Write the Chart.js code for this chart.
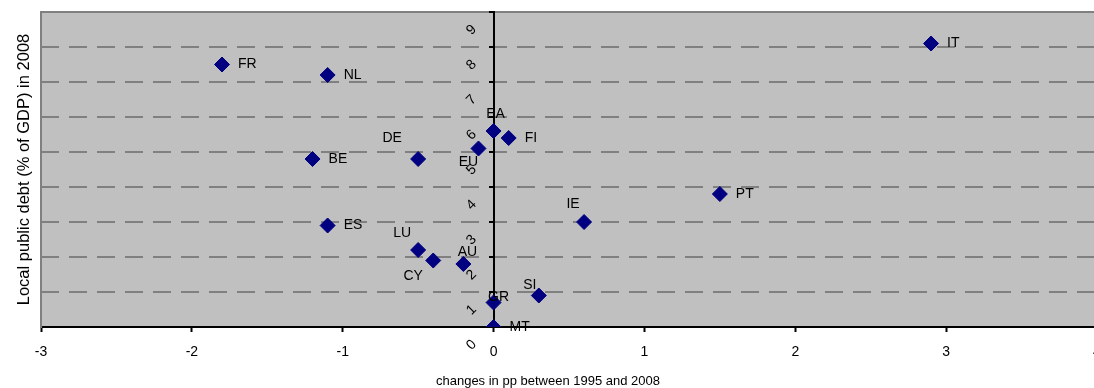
<!DOCTYPE html>
<html>
<head>
<meta charset="utf-8">
<title>Local public debt vs change 1995-2008</title>
<script src="https://cdn.jsdelivr.net/npm/chart.js@4.4.1/dist/chart.umd.min.js"></script>
<style>
  html, body { margin: 0; padding: 0; background: #fff; overflow: hidden; }
  #wrap { width: 1094px; height: 388px; overflow: hidden; }
  canvas { display: block; }
</style>
</head>
<body>
<div id="wrap"><canvas id="debtChart" width="1120" height="388"></canvas></div>
<script>
/* Local public debt 2008 against change since 1995: scatter with country tags. */
var countries = ['FR', 'NL', 'BE', 'DE', 'EU', 'EA', 'FI', 'IT', 'PT', 'IE', 'ES', 'LU', 'CY', 'AU', 'SI', 'GR', 'MT'];
var changePP  = [-1.8, -1.1, -1.2, -0.5, -0.1, 0, 0.1, 2.9, 1.5, 0.6, -1.1, -0.5, -0.4, -0.2, 0.3, 0, 0];
var debt2008  = [7.5, 7.2, 4.8, 4.8, 5.1, 5.6, 5.4, 8.1, 3.8, 3.0, 2.9, 2.2, 1.9, 1.8, 0.9, 0.7, 0];
var xTicks = [-3, -2, -1, 0, 1, 2, 3, 4];
var yTicks = [0, 1, 2, 3, 4, 5, 6, 7, 8, 9];
var xTitle = 'changes in pp between 1995 and 2008';
var yTitle = 'Local public debt (% of GDP) in 2008';

// where each tag sits relative to its marker: [dx, dy, align]
var tagPlace = {
    DE: [-26, -21, 'center'], EU: [-10, 14, 'center'], EA: [2, -17, 'center'],
    IE: [-11, -18, 'center'], LU: [-16, -17, 'center'], CY: [-20, 16, 'center'],
    AU: [4, -12, 'center'], SI: [-9, -10, 'center'], GR: [5, -5, 'center']
};
var defaultPlace = [16, 0, 'left'];

(function () {
    'use strict';

    var fam = "'Liberation Sans', Arial, sans-serif";

    function fixedTicks(list) {
        return function (scale) { scale.ticks = list.map(function (v) { return { value: v }; }); };
    }

    var plotBg = {
        id: 'plotBg',
        beforeDraw: function (chart) {
            var a = chart.chartArea, ctx = chart.ctx;
            ctx.save();
            ctx.fillStyle = '#c0c0c0';
            ctx.fillRect(a.left, a.top, a.right - a.left, a.bottom - a.top);
            ctx.strokeStyle = '#808080';
            ctx.lineWidth = 2;
            ctx.beginPath();
            ctx.moveTo(a.left, a.top);
            ctx.lineTo(a.right + 5, a.top);
            ctx.stroke();
            ctx.restore();
        },
        afterDraw: function (chart) {
            // x title sits a little left of the plot centre in the original
            var ctx = chart.ctx;
            ctx.save();
            ctx.font = '13px ' + fam;
            ctx.fillStyle = '#000';
            ctx.textAlign = 'center';
            ctx.textBaseline = 'middle';
            ctx.fillText(xTitle, 548, 381);
            ctx.restore();
        }
    };

    // slanted y tick labels, hung just below each tick and left of the axis at x = 0
    var yTickText = {
        id: 'yTickText',
        afterDatasetsDraw: function (chart) {
            var ctx = chart.ctx, ys = chart.scales.y, x0 = chart.scales.x.getPixelForValue(0);
            ctx.save();
            ctx.font = '14px ' + fam;
            ctx.fillStyle = '#000';
            ctx.textAlign = 'center';
            ctx.textBaseline = 'middle';
            yTicks.forEach(function (v) {
                ctx.save();
                ctx.translate(x0 - 22, ys.getPixelForValue(v) + 18);
                ctx.rotate(-Math.PI / 4);
                ctx.fillText(String(v), 0, 0);
                ctx.restore();
            });
            ctx.restore();
        }
    };

    var pointTags = {
        id: 'pointTags',
        afterDatasetsDraw: function (chart) {
            var ctx = chart.ctx;
            var meta = chart.getDatasetMeta(0);
            ctx.save();
            ctx.font = '14px ' + fam;
            ctx.fillStyle = '#000';
            ctx.textBaseline = 'middle';
            meta.data.forEach(function (pt, i) {
                var p = tagPlace[countries[i]] || defaultPlace;
                ctx.textAlign = p[2];
                ctx.fillText(countries[i], pt.x + p[0], pt.y + p[1]);
            });
            ctx.restore();
        }
    };

    function noPad(s) { s.paddingTop = 0; s.paddingBottom = 0; s.paddingLeft = 0; s.paddingRight = 0; }

    new Chart(document.getElementById('debtChart'), {
        type: 'scatter',
        data: {
            datasets: [{
                label: 'Local public debt',
                data: changePP.map(function (x, i) { return { x: x, y: debt2008[i] }; }),
                pointStyle: 'rectRot',
                pointRadius: 7.5,
                pointHoverRadius: 7.5,
                backgroundColor: '#000080',
                borderColor: '#000080',
                borderWidth: 1
            }]
        },
        options: {
            responsive: false,
            animation: false,
            layout: { padding: { top: 12, right: 23, bottom: 0, left: 0 } },
            plugins: { legend: { display: false }, tooltip: { enabled: false } },
            scales: {
                x: {
                    type: 'linear', position: 'bottom', min: -3, max: 4,
                    afterBuildTicks: fixedTicks(xTicks),
                    afterFit: function (s) { s.height = 61; noPad(s); },
                    grid: { drawOnChartArea: false, tickLength: 5, tickColor: '#000', tickWidth: 2 },
                    border: { color: '#000', width: 2 },
                    ticks: { color: '#000', font: { family: fam, size: 14 }, padding: 12, maxRotation: 0 }
                },
                y: {
                    type: 'linear', position: { x: 0 }, min: 0, max: 9,
                    afterBuildTicks: fixedTicks(yTicks),
                    afterFit: noPad,
                    grid: {
                        color: function (c) {
                            return c.tick && c.tick.value > 0 && c.tick.value < 9 ? '#808080' : 'rgba(0,0,0,0)';
                        },
                        lineWidth: 2, tickLength: 4, tickColor: '#000', tickWidth: 2, tickBorderDash: []
                    },
                    border: { color: '#000', width: 2, dash: [18, 10] },
                    ticks: { display: false }
                },
                yTitle: {
                    type: 'linear', axis: 'y', position: 'left', min: 0, max: 9,
                    afterFit: function (s) { s.width = 41; noPad(s); },
                    grid: { drawOnChartArea: false, drawTicks: false },
                    border: { color: '#808080', width: 2 },
                    ticks: { display: false },
                    title: {
                        display: true, text: yTitle, color: '#000',
                        font: { family: fam, size: 16.5 }, padding: { top: 15, bottom: 0 }
                    }
                }
            }
        },
        plugins: [plotBg, yTickText, pointTags]
    });
})();
</script>
</body>
</html>
